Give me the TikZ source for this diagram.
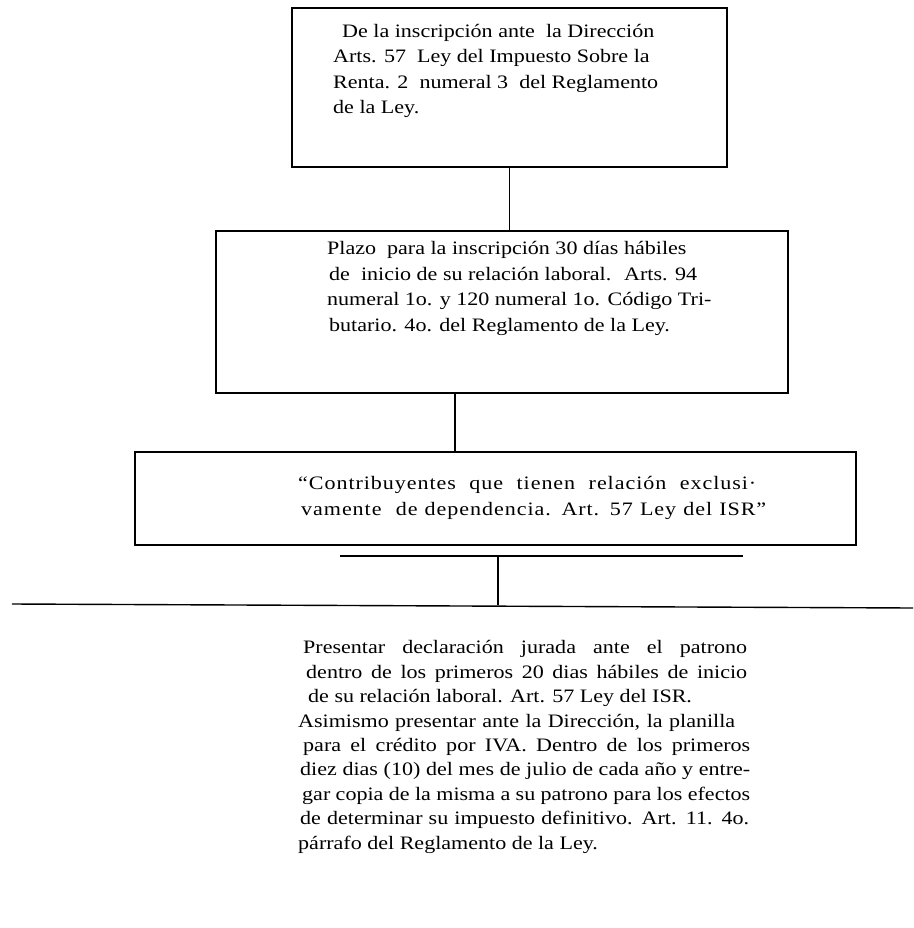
\documentclass[tikz,border=0pt]{standalone}
\usepackage{fontspec}
\setmainfont[FakeStretch=1.16]{Liberation Serif}
\newfontfamily\widefont[FakeStretch=1.16, LetterSpace=5]{Liberation Serif}
\begin{document}
\begin{tikzpicture}[x=1pt,y=-1pt,
  box/.style={draw, line width=1.4pt, inner sep=0pt},
  txt/.style={anchor=base west, align=left, inner sep=0pt, font=\fontsize{19}{25.5}\selectfont},
  ln/.style={line width=1.4pt}]
\useasboundingbox (0,0) rectangle (913,928);
% boxes
\node[box, minimum width=435pt, minimum height=159pt] (b1) at (509.5,87.5) {};
\node[box, minimum width=572pt, minimum height=162pt] (b2) at (502,312) {};
\node[box, minimum width=721pt, minimum height=93pt] (b3) at (495.5,498.5) {};
% texts (anchored at the baseline of their last line)
\node[txt] (t1) at (333,114) {\hspace*{9pt}De la inscripción ante~ la Dirección\\
Arts. 57~ Ley del Impuesto Sobre la\\
Renta. 2~ numeral 3~ del Reglamento\\
de la Ley.};
\node[txt] (t2) at (327,331) {Plazo~ para la inscripción 30 días hábiles\\
\hspace*{2pt}de~ inicio de su relación laboral.~ Arts. 94\\
numeral 1o. y 120 numeral 1o. Código Tri-\\
\hspace*{2pt}butario. 4o. del Reglamento de la Ley.};
\node[txt, font=\widefont\fontsize{19}{26}\selectfont] (t3) at (298,515) {\makebox[458pt][s]{“Contribuyentes que tienen relación exclusi·}\\
\hspace*{3pt}\makebox[465pt][s]{vamente~ de dependencia. Art. 57 Ley del ISR”}};
\node[txt, font=\fontsize{19}{24.4}\selectfont] (t4) at (298,849) {%
\hspace*{5pt}\makebox[444pt][s]{Presentar declaración jurada ante el patrono}\\
\hspace*{8pt}\makebox[441pt][s]{dentro de los primeros 20 dias hábiles de inicio}\\
\hspace*{10pt}de su relación laboral. Art. 57 Ley del ISR.\\
\makebox[437pt][s]{Asimismo presentar ante la Dirección, la planilla}\\
\hspace*{5pt}\makebox[447pt][s]{para el crédito por IVA. Dentro de los primeros}\\
\hspace*{2pt}\makebox[450pt][s]{diez dias (10) del mes de julio de cada año y entre-}\\
\hspace*{4pt}\makebox[448pt][s]{gar copia de la misma a su patrono para los efectos}\\
\hspace*{2pt}\makebox[449pt][s]{de determinar su impuesto definitivo. Art. 11. 4o.}\\
párrafo del Reglamento de la Ley.};
% connector points
\coordinate (k2) at (455,0);
\coordinate (dl1) at (340,556);
\coordinate (dl2) at (743,556);
\coordinate (j3) at (498,556);
\coordinate (ll1) at (12,604);
\coordinate (ll2) at (913,608);
\coordinate (j4) at (498,605);
% connectors
\draw[ln] (b1.south) -- (b1.south |- b2.north);
\draw[ln] (b2.south -| k2) -- (b3.north -| k2);
\draw[ln] (dl1) -- (dl2);
\draw[ln] (j3) -- (j4);
\draw[ln] (ll1) -- (ll2);
\end{tikzpicture}
\end{document}
